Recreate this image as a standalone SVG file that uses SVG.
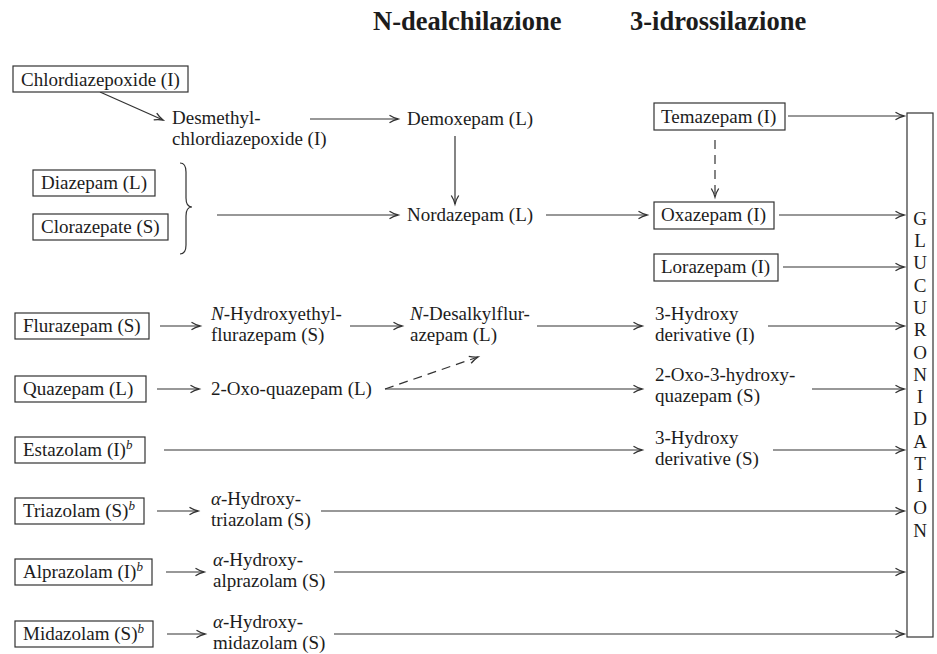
<svg xmlns="http://www.w3.org/2000/svg" width="937" height="654" viewBox="0 0 937 654">
<defs>
<marker id="ah" markerUnits="userSpaceOnUse" markerWidth="12" markerHeight="10" refX="9" refY="4" orient="auto" overflow="visible">
<path d="M0.5,0.3 Q4,2.6 9,4 Q4,5.4 0.5,7.7" fill="none" stroke="#333" stroke-width="1.3"/>
</marker>
<style>
text{font-family:"Liberation Serif","Times New Roman",serif;font-size:19px;fill:#1c1c1c}
.h{font-weight:bold;font-size:26.5px}
.box{fill:#fff;stroke:#333;stroke-width:1.2}
.c{fill:none;stroke:#333;stroke-width:1.2}
.a{marker-end:url(#ah)}
.d{stroke-dasharray:9,6}
.i{font-style:italic}
.sup{font-style:italic;font-size:13px}
.g{text-anchor:middle}
</style>
</defs>
<rect width="937" height="654" fill="#fff"/>
<text class="h" x="373" y="30">N-dealchilazione</text>
<text class="h" x="630" y="30">3-idrossilazione</text>

<g id="connectors">
<line class="c a" x1="100" y1="92" x2="163" y2="120"/>
<line class="c a" x1="310" y1="119" x2="398" y2="119"/>
<line class="c a" x1="455" y1="136" x2="455" y2="204"/>
<line class="c a" x1="788" y1="116" x2="904" y2="116"/>
<line class="c a d" x1="715" y1="140" x2="715" y2="197"/>
<path class="c" d="M180,163 Q186,163 186,172 L186,198 Q186,207 192,207 Q186,207 186,216 L186,245 Q186,254 180,254"/>
<line class="c a" x1="217" y1="215" x2="398" y2="215"/>
<line class="c a" x1="546" y1="215" x2="647" y2="215"/>
<line class="c a" x1="779" y1="215" x2="904" y2="215"/>
<line class="c a" x1="783" y1="267" x2="904" y2="267"/>
<line class="c a" x1="160" y1="326" x2="200" y2="326"/>
<line class="c a" x1="350" y1="326" x2="402" y2="326"/>
<line class="c a" x1="537" y1="326" x2="642" y2="326"/>
<line class="c a" x1="768" y1="326" x2="904" y2="326"/>
<line class="c a" x1="157" y1="389" x2="199" y2="389"/>
<line class="c a d" x1="385" y1="389" x2="478" y2="357"/>
<line class="c a" x1="385" y1="389" x2="642" y2="389"/>
<line class="c a" x1="812" y1="389" x2="904" y2="389"/>
<line class="c a" x1="164" y1="450" x2="642" y2="450"/>
<line class="c a" x1="773" y1="450" x2="904" y2="450"/>
<line class="c a" x1="157" y1="511" x2="198" y2="511"/>
<line class="c a" x1="321" y1="511" x2="904" y2="511"/>
<line class="c a" x1="166" y1="572" x2="204" y2="572"/>
<line class="c a" x1="334" y1="572" x2="904" y2="572"/>
<line class="c a" x1="167" y1="634" x2="205" y2="634"/>
<line class="c a" x1="334" y1="634" x2="904" y2="634"/>
</g>

<g id="chlordiazepoxide"><rect class="box" x="13" y="66" width="175" height="26"/><text x="21" y="86">Chlordiazepoxide (I)</text></g>
<g id="desmethyl"><text x="172" y="124">Desmethyl-</text><text x="172" y="145">chlordiazepoxide (I)</text></g>
<g id="demoxepam"><text x="407" y="125">Demoxepam (L)</text></g>
<g id="temazepam"><rect class="box" x="654" y="103" width="131" height="27"/><text x="661" y="123">Temazepam (I)</text></g>
<g id="diazepam"><rect class="box" x="33" y="170" width="122" height="26"/><text x="41" y="189">Diazepam (L)</text></g>
<g id="clorazepate"><rect class="box" x="33" y="214" width="135" height="26"/><text x="41" y="233">Clorazepate (S)</text></g>
<g id="nordazepam"><text x="407" y="221">Nordazepam (L)</text></g>
<g id="oxazepam"><rect class="box" x="654" y="202" width="120" height="27"/><text x="661" y="221">Oxazepam (I)</text></g>
<g id="lorazepam"><rect class="box" x="654" y="254" width="124" height="27"/><text x="661" y="273">Lorazepam (I)</text></g>
<g id="flurazepam"><rect class="box" x="15" y="313" width="134" height="26"/><text x="23" y="332">Flurazepam (S)</text></g>
<g id="n-hydroxyethylflurazepam"><text x="211" y="320"><tspan class="i">N</tspan>-Hydroxyethyl-</text><text x="211" y="341">flurazepam (S)</text></g>
<g id="n-desalkylflurazepam"><text x="410" y="320"><tspan class="i">N</tspan>-Desalkylflur-</text><text x="410" y="341">azepam (L)</text></g>
<g id="hydroxy-derivative-i"><text x="655" y="320">3-Hydroxy</text><text x="655" y="341">derivative (I)</text></g>
<g id="quazepam"><rect class="box" x="15" y="376" width="131" height="26"/><text x="23" y="395">Quazepam (L)</text></g>
<g id="oxo-quazepam"><text x="211" y="395">2-Oxo-quazepam (L)</text></g>
<g id="oxo-hydroxy-quazepam"><text x="655" y="381">2-Oxo-3-hydroxy-</text><text x="655" y="402">quazepam (S)</text></g>
<g id="estazolam"><rect class="box" x="15" y="437" width="130" height="26"/><text x="23" y="456">Estazolam (I)<tspan class="sup" dy="-7">b</tspan></text></g>
<g id="hydroxy-derivative-s"><text x="655" y="444">3-Hydroxy</text><text x="655" y="465">derivative (S)</text></g>
<g id="triazolam"><rect class="box" x="15" y="498" width="129" height="26"/><text x="23" y="517">Triazolam (S)<tspan class="sup" dy="-7">b</tspan></text></g>
<g id="hydroxy-triazolam"><text x="211" y="505"><tspan class="i">α</tspan>-Hydroxy-</text><text x="211" y="526">triazolam (S)</text></g>
<g id="alprazolam"><rect class="box" x="15" y="559" width="137" height="26"/><text x="23" y="578">Alprazolam (I)<tspan class="sup" dy="-7">b</tspan></text></g>
<g id="hydroxy-alprazolam"><text x="213" y="566"><tspan class="i">α</tspan>-Hydroxy-</text><text x="213" y="587">alprazolam (S)</text></g>
<g id="midazolam"><rect class="box" x="15" y="621" width="138" height="26"/><text x="23" y="640">Midazolam (S)<tspan class="sup" dy="-7">b</tspan></text></g>
<g id="hydroxy-midazolam"><text x="213" y="628"><tspan class="i">α</tspan>-Hydroxy-</text><text x="213" y="649">midazolam (S)</text></g>
<g id="glucuronidation"><rect class="box" x="907" y="113" width="26" height="524"/>
<text class="g" x="920" y="225">G</text><text class="g" x="920" y="247">L</text><text class="g" x="920" y="269">U</text><text class="g" x="920" y="292">C</text><text class="g" x="920" y="314">U</text><text class="g" x="920" y="336">R</text><text class="g" x="920" y="359">O</text><text class="g" x="920" y="381">N</text><text class="g" x="920" y="403">I</text><text class="g" x="920" y="425">D</text><text class="g" x="920" y="448">A</text><text class="g" x="920" y="470">T</text><text class="g" x="920" y="492">I</text><text class="g" x="920" y="514">O</text><text class="g" x="920" y="537">N</text></g>
</svg>
